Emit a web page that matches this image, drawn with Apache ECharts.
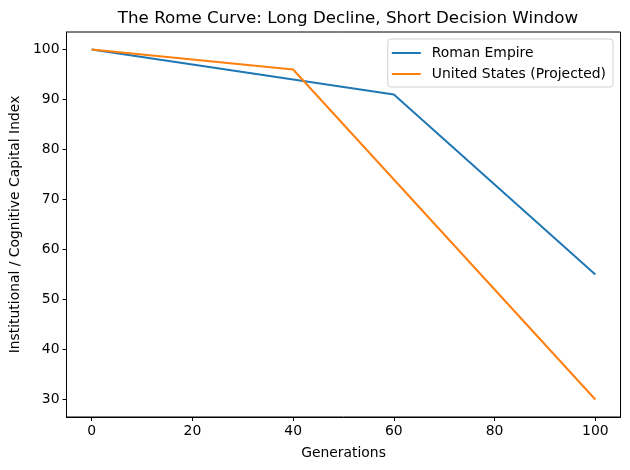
<!DOCTYPE html>
<html>
<head>
<meta charset="utf-8">
<script src="https://cdn.jsdelivr.net/npm/echarts@6/dist/echarts.min.js"></script>
<style>html,body{margin:0;padding:0;background:#fff}#c{width:630px;height:470px}</style>
</head>
<body>
<div id="c"></div>
<script>
const romeX = [0, 60, 100];
const romeY = [100, 91, 55];
const usX = [0, 40, 100];
const usY = [100, 96, 30];
const xTicks = [0, 20, 40, 60, 80, 100];
const yTicks = [30, 40, 50, 60, 70, 80, 90, 100];

const font = 'DejaVu Sans';
const chart = echarts.init(document.getElementById('c'), null, {renderer: 'canvas'});
chart.setOption({
  animation: false,
  textStyle: {fontFamily: font},
  title: {
    text: 'The Rome Curve: Long Decline, Short Decision Window',
    left: 343, top: 5, textAlign: 'center',
    textStyle: {fontFamily: font, fontSize: 16.7, fontWeight: 'normal', color: '#000'}
  },
  legend: {
    orient: 'vertical', right: 17, top: 39,
    icon: 'rect', itemWidth: 29, itemHeight: 2, itemGap: 7,
    borderColor: '#d0d0d0', borderWidth: 1, borderRadius: 3,
    padding: [7, 7, 6, 4],
    textStyle: {fontFamily: font, fontSize: 13.9, color: '#000', padding: [0, 0, 0, 6]},
    data: ['Roman Empire', 'United States (Projected)']
  },
  grid: {left: 66.5, right: 9.5, top: 32, bottom: 53, show: true, borderColor: '#000', borderWidth: 1, containLabel: false},
  xAxis: {
    type: 'value', min: -5, max: 105,
    name: 'Generations', nameLocation: 'middle', nameGap: 29,
    nameTextStyle: {fontFamily: font, fontSize: 13.9, color: '#000'},
    axisLine: {show: true, onZero: false, lineStyle: {color: '#000', width: 1}},
    axisTick: {show: true, inside: false, length: 4, customValues: xTicks, lineStyle: {color: '#000'}},
    axisLabel: {customValues: xTicks, fontFamily: font, fontSize: 13.9, color: '#000', margin: 7},
    splitLine: {show: false}
  },
  yAxis: {
    type: 'value', min: 26.5, max: 103.5,
    name: 'Institutional / Cognitive Capital Index', nameLocation: 'middle', nameGap: 44,
    nameTextStyle: {fontFamily: font, fontSize: 13.9, color: '#000'},
    axisLine: {show: true, onZero: false, lineStyle: {color: '#000', width: 1}},
    axisTick: {show: true, inside: false, length: 4, customValues: yTicks, lineStyle: {color: '#000'}},
    axisLabel: {customValues: yTicks, fontFamily: font, fontSize: 13.9, color: '#000', margin: 7},
    splitLine: {show: false}
  },
  series: [
    {name: 'Roman Empire', type: 'line', showSymbol: false, symbol: 'none',
     data: romeX.map((x, i) => [x, romeY[i]]),
     lineStyle: {color: '#1f77b4', width: 2}, itemStyle: {color: '#1f77b4'}},
    {name: 'United States (Projected)', type: 'line', showSymbol: false, symbol: 'none',
     data: usX.map((x, i) => [x, usY[i]]),
     lineStyle: {color: '#ff7f0e', width: 2}, itemStyle: {color: '#ff7f0e'}}
  ]
});
</script>
</body>
</html>
